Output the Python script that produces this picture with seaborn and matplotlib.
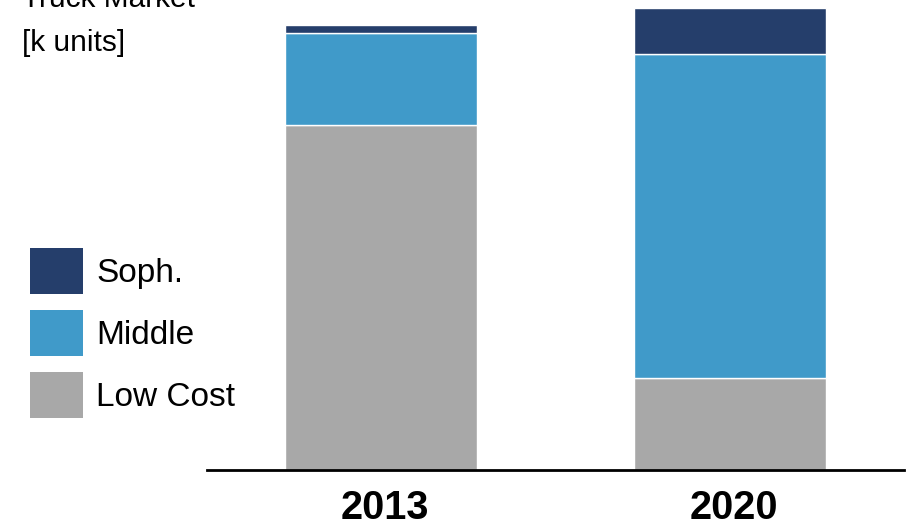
import matplotlib
matplotlib.use("Agg")
import matplotlib.pyplot as plt
import matplotlib.patches as mpatches
import matplotlib.transforms as mtransforms
import seaborn as sns
import numpy as np

years = ["2013", "2020"]
low_cost = [345, 92]
middle = [92, 324]
soph = [8, 46]

series_labels = ["Soph.", "Middle", "Low Cost"]
colors = {"Soph.": "#253E6B", "Middle": "#409AC9", "Low Cost": "#A8A8A8"}

sns.set_style("white")
plt.rcParams["font.family"] = ["Liberation Sans", "DejaVu Sans"]
plt.rcParams["text.color"] = "black"
plt.rcParams["xtick.color"] = "black"
plt.rcParams["xtick.labelcolor"] = "black"

fig = plt.figure(figsize=(9.09, 5.22), dpi=100)
W, H = 909, 522
ax = fig.add_axes([207 / W, 1 - 470 / H, 697 / W, 470 / H])

b1 = np.array(low_cost)
b2 = b1 + np.array(middle)
sns.barplot(x=years, y=low_cost, color=colors["Low Cost"], saturation=1,
            width=0.55, edgecolor="white", linewidth=1, ax=ax)
sns.barplot(x=years, y=middle, bottom=b1, color=colors["Middle"], saturation=1,
            width=0.55, edgecolor="white", linewidth=1, ax=ax)
sns.barplot(x=years, y=soph, bottom=b2, color=colors["Soph."], saturation=1,
            width=0.55, edgecolor="white", linewidth=1, ax=ax)

ax.set_xlim(-0.5, 1.5)
ax.set_ylim(0, 470)
ax.set_yticks([])
ax.set_ylabel("")
ax.set_xlabel("")
for s in ["top", "right", "left"]:
    ax.spines[s].set_visible(False)
ax.spines["bottom"].set_color("black")
ax.spines["bottom"].set_linewidth(2)
ax.tick_params(axis="x", length=0, pad=14, labelsize=28.5, labelcolor="black")
offset = mtransforms.ScaledTranslation(4 / 100, 0, fig.dpi_scale_trans)
for lbl in ax.get_xticklabels():
    lbl.set_fontweight("bold")
    lbl.set_transform(lbl.get_transform() + offset)

handles = [mpatches.Patch(facecolor=colors[k], edgecolor="none", label=k) for k in series_labels]
fig.legend(handles=handles, loc="upper left", bbox_to_anchor=(30 / W, 1 - 248 / H),
           bbox_transform=fig.transFigure, frameon=False, fontsize=24, borderpad=0,
           borderaxespad=0, handlelength=1.59, handleheight=1.746, labelspacing=0.48,
           handletextpad=0.39, labelcolor="black")

fig.text(22 / W, 1 - 7 / H, "Truck Market", fontsize=21.5, va="baseline", ha="left")
fig.text(22 / W, 1 - 51 / H, "[k units]", fontsize=21.5, va="baseline", ha="left")

fig.savefig("out.png", dpi=100)
